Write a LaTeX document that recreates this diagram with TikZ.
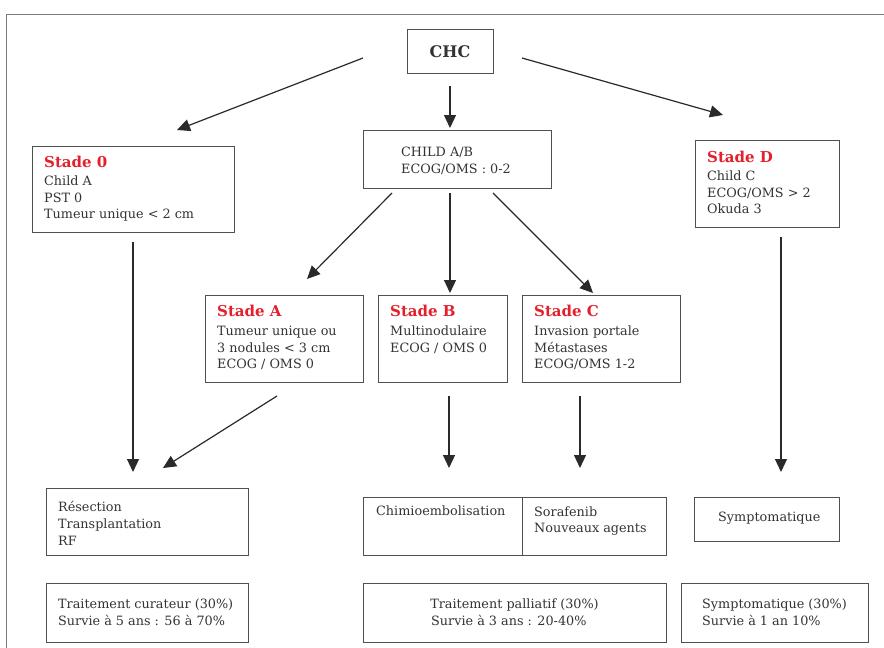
\documentclass[tikz,border=0pt]{standalone}
\usepackage{fontspec}
\setmainfont{DejaVu Serif}
\usetikzlibrary{arrows.meta}
\definecolor{txt}{HTML}{333333}
\definecolor{stred}{HTML}{E3202C}
\definecolor{boxc}{HTML}{505050}
\definecolor{arrc}{HTML}{2A2A2A}
\definecolor{framec}{HTML}{7A7A7A}
\begin{document}
\begin{tikzpicture}[x=1pt,y=-1pt,
  box/.style={draw=boxc, line width=1.1pt, inner sep=0pt, anchor=north west},
  lbl/.style={anchor=base west, inner sep=0pt, text=txt, font=\fontsize{12.8}{15}\selectfont},
  lblc/.style={anchor=base, inner sep=0pt, text=txt, font=\fontsize{12.8}{15}\selectfont},
  ttl/.style={anchor=base west, inner sep=0pt, text=stred, font=\bfseries\fontsize{15}{18}\selectfont},
  arr/.style={draw=arrc, line width=1.2pt, -{Triangle[length=13pt,width=12pt]}}]
\useasboundingbox[fill=white] (0,0) rectangle (884,648);
% frame
\draw[draw=framec, line width=1pt] (6,648) -- (6,14) -- (884,14);
% boxes
\node[box, minimum width=86pt, minimum height=44pt] (chc) at (407,29) {};
\node[box, minimum width=188pt, minimum height=58pt] (child) at (363,130) {};
\node[box, minimum width=202pt, minimum height=86pt] (s0) at (32,146) {};
\node[box, minimum width=144pt, minimum height=87pt] (sD) at (695,140) {};
\node[box, minimum width=158pt, minimum height=87pt] (sA) at (205,295) {};
\node[box, minimum width=129pt, minimum height=87pt] (sB) at (378,295) {};
\node[box, minimum width=158pt, minimum height=87pt] (sC) at (522,295) {};
\node[box, minimum width=202pt, minimum height=67pt] (res) at (46,488) {};
\node[box, minimum width=159pt, minimum height=58pt] (chim) at (363,497) {};
\node[box, minimum width=144pt, minimum height=58pt] (sora) at (522,497) {};
\node[box, minimum width=145pt, minimum height=44pt] (sym) at (694,497) {};
\node[box, minimum width=202pt, minimum height=59pt] (cur) at (46,583) {};
\node[box, minimum width=303pt, minimum height=59pt] (pal) at (363,583) {};
\node[box, minimum width=187pt, minimum height=59pt] (symb) at (681,583) {};
% texts
\node[anchor=base, inner sep=0pt, text=txt, font=\bfseries\fontsize{16}{19}\selectfont] (chct) at (450,57) {CHC};
\node[lbl] (childa) at (401,156) {CHILD A/B};
\node[lbl] (childb) at (401,173) {ECOG/OMS : 0-2};
\node[ttl] (s0t) at (44,167) {Stade 0};
\node[lbl] (s0a) at (44,185) {Child A};
\node[lbl] (s0b) at (44,202) {PST 0};
\node[lbl] (s0c) at (44,218) {Tumeur unique < 2 cm};
\node[ttl] (sDt) at (707,162) {Stade D};
\node[lbl] (sDa) at (707,180) {Child C};
\node[lbl] (sDb) at (707,197) {ECOG/OMS > 2};
\node[lbl] (sDc) at (707,213) {Okuda 3};
\node[ttl] (sAt) at (217,316) {Stade A};
\node[lbl] (sAa) at (217,335) {Tumeur unique ou};
\node[lbl] (sAb) at (217,352) {3 nodules < 3 cm};
\node[lbl] (sAc) at (217,368) {ECOG / OMS 0};
\node[ttl] (sBt) at (390,316) {Stade B};
\node[lbl] (sBa) at (390,335) {Multinodulaire};
\node[lbl] (sBb) at (390,352) {ECOG / OMS 0};
\node[ttl] (sCt) at (534,316) {Stade C};
\node[lbl] (sCa) at (534,335) {Invasion portale};
\node[lbl] (sCb) at (534,352) {Métastases};
\node[lbl] (sCc) at (534,368) {ECOG/OMS 1-2};
\node[lbl] (resa) at (58,511) {Résection};
\node[lbl] (resb) at (58,528) {Transplantation};
\node[lbl] (resc) at (58,545) {RF};
\node[lbl] (chimt) at (376,515) {Chimioembolisation};
\node[lbl] (soraa) at (534,516) {Sorafenib};
\node[lbl] (sorab) at (534,532) {Nouveaux agents};
\node[lbl] (symt) at (718,521) {Symptomatique};
\node[lbl] (cura) at (58,608) {Traitement curateur (30\%)};
\node[lbl] (curb) at (58,625) {Survie à 5 ans : 56 à 70\%};
\node[lblc] (pala) at (514.5,608) {Traitement palliatif (30\%)};
\node[lbl] (palb) at (431,625) {Survie à 3 ans : 20-40\%};
\node[lbl] (symba) at (702,608) {Symptomatique (30\%)};
\node[lbl] (symbb) at (702,625) {Survie à 1 an 10\%};
% connector end points
\coordinate (c1s) at (363,58);  \coordinate (c1e) at (177,130);
\coordinate (c2s) at (450,86);  \coordinate (c2e) at (450,128);
\coordinate (c3s) at (522,58);  \coordinate (c3e) at (723,115);
\coordinate (d1s) at (392,193); \coordinate (d1e) at (307,279);
\coordinate (d2s) at (450,193); \coordinate (d2e) at (450,293);
\coordinate (d3s) at (493,193); \coordinate (d3e) at (593,293);
\coordinate (e0s) at (133,242); \coordinate (e0e) at (133,472);
\coordinate (eAs) at (277,396); \coordinate (eAe) at (163,468);
\coordinate (eBs) at (449,396); \coordinate (eBe) at (449,468);
\coordinate (eCs) at (580,396); \coordinate (eCe) at (580,468);
\coordinate (eDs) at (781,237); \coordinate (eDe) at (781,472);
% connectors
\draw[arr] (c1s) -- (c1e);
\draw[arr] (c2s) -- (c2e);
\draw[arr] (c3s) -- (c3e);
\draw[arr] (d1s) -- (d1e);
\draw[arr] (d2s) -- (d2e);
\draw[arr] (d3s) -- (d3e);
\draw[arr] (e0s) -- (e0e);
\draw[arr] (eAs) -- (eAe);
\draw[arr] (eBs) -- (eBe);
\draw[arr] (eCs) -- (eCe);
\draw[arr] (eDs) -- (eDe);
\end{tikzpicture}
\end{document}
